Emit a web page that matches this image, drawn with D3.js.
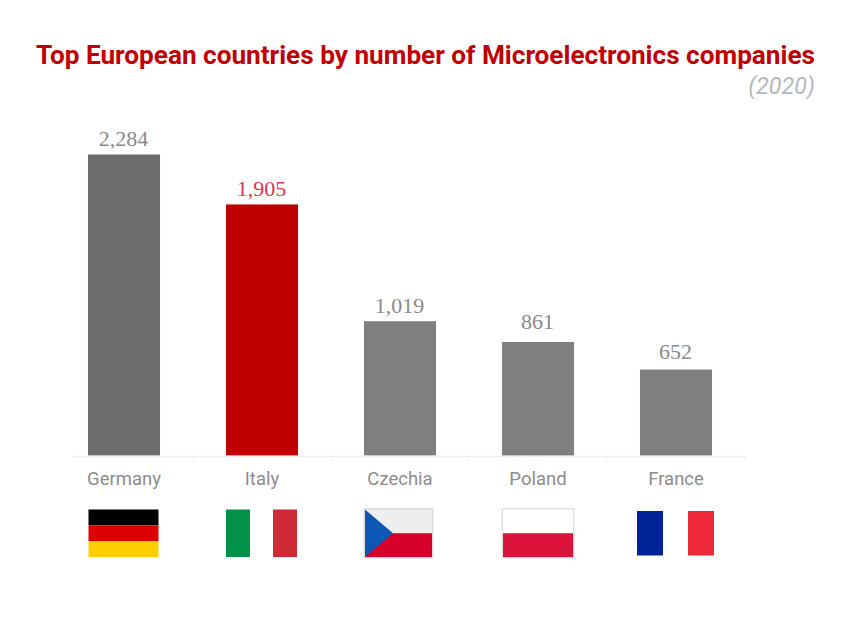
<!DOCTYPE html>
<html>
<head>
<meta charset="utf-8">
<script src="https://cdn.jsdelivr.net/npm/d3@7"></script>
<style>
  html, body { margin: 0; padding: 0; background: #fff; }
  svg { display: block; }
  .domain, .tick line { stroke: #f0f0f0; }
  .tick text { font-family: Roboto, sans-serif; font-size: 18.5px; fill: #8c8c8c; }
</style>
</head>
<body>
<svg id="chart"></svg>
<script>
let countries = ['Germany', 'Italy', 'Czechia', 'Poland', 'France'];
let companies = [2284, 1905, 1019, 861, 652];
let barColors = ['#6d6d6d', '#c00000', '#7f7f7f', '#7f7f7f', '#7f7f7f'];
let valueColors = ['#8a8a8a', '#e0344f', '#8a8a8a', '#8a8a8a', '#8a8a8a'];
// the value labels don't sit at a constant distance over the bars
let valueGaps = [9, 8, 8, 13, 11];

let w = 851;
let h = 618;
let baseline = 455.5;
let plotTop = 154.5;

let svg = d3.select('#chart')
    .attr('width', w)
    .attr('height', h)
    .attr('viewBox', `0 0 ${w} ${h}`);

let x = d3.scaleBand()
    .domain(countries)
    .range([55, 745])
    .paddingInner(0.478)
    .paddingOuter(0.239);

let y = d3.scaleLinear()
    .domain([0, d3.max(companies)])
    .range([baseline, plotTop]);

// title
svg.append('text')
    .attr('x', 815)
    .attr('y', 64)
    .attr('text-anchor', 'end')
    .attr('font-family', 'Roboto, sans-serif')
    .attr('font-weight', 700)
    .attr('font-size', 26.17)
    .attr('fill', '#c00000')
    .text('Top European countries by number of Microelectronics companies');

svg.append('text')
    .attr('x', 815)
    .attr('y', 94)
    .attr('text-anchor', 'end')
    .attr('font-family', 'Roboto, sans-serif')
    .attr('font-style', 'italic')
    .attr('font-size', 23.4)
    .attr('fill', '#b4b8bc')
    .text('(2020)');

// bars
svg.append('g')
    .selectAll('rect')
    .data(countries)
    .enter()
    .append('rect')
    .attr('x', d => x(d))
    .attr('y', (d, i) => y(companies[i]))
    .attr('width', x.bandwidth())
    .attr('height', (d, i) => y(0) - y(companies[i]))
    .attr('fill', (d, i) => barColors[i]);

// values
svg.append('g')
    .selectAll('text')
    .data(countries)
    .enter()
    .append('text')
    .attr('x', d => x(d) + x.bandwidth() / 2 - 0.5)
    .attr('y', (d, i) => y(companies[i]) - valueGaps[i])
    .attr('text-anchor', 'middle')
    .attr('font-family', '"Liberation Serif", serif')
    .attr('font-size', 22)
    .attr('fill', (d, i) => valueColors[i])
    .text((d, i) => d3.format(',')(companies[i]));

// axis: labels from the band scale, ticks sit on the band edges
let xAxis = d3.axisBottom(x)
    .tickSizeInner(0)
    .tickSizeOuter(0)
    .tickPadding(16);

let $xAxis = svg.append('g')
    .attr('transform', `translate(0, ${baseline + 0.5})`)
    .call(xAxis);

$xAxis.select('.domain')
    .attr('d', 'M73,0.5H745')
    .attr('stroke-width', 1.5);

$xAxis.selectAll('.tick line')
    .attr('x1', x.step() / 2)
    .attr('x2', x.step() / 2)
    .attr('y2', 5);

// flags, each one drawn inside the band of its country
let flagTop = 509.5;
let flagH = 47.5;
let flagW = 70;

let flags = svg.append('g');

function flag(name, dx = 0) {
    return flags.append('g')
        .attr('transform', `translate(${x(name) + x.bandwidth() / 2 - flagW / 2 + dx}, ${flagTop})`);
}

function stripe(g, sx, sy, sw, sh, color) {
    g.append('rect')
        .attr('x', sx)
        .attr('y', sy)
        .attr('width', sw)
        .attr('height', sh)
        .attr('fill', color);
}

let de = flag('Germany', -0.5);
stripe(de, 0, 0, flagW, flagH / 3, '#000000');
stripe(de, 0, flagH / 3, flagW, flagH / 3, '#dd0000');
stripe(de, 0, 2 * flagH / 3, flagW, flagH / 3, '#ffce00');

let it = flag('Italy', -1);
stripe(it, 0, 0, 24, flagH, '#009246');
stripe(it, 47, 0, 24, flagH, '#ce2b37');

let cz = flag('Czechia');
stripe(cz, -1.5, -1.5, 70, 50.5, '#dcdcdc');
stripe(cz, 0, 0, 67, flagH / 2, '#eeeeee');
stripe(cz, 0, flagH / 2, 67, flagH / 2, '#d7002a');
cz.append('path')
    .attr('d', `M0,0L28,${flagH / 2}L0,${flagH}Z`)
    .attr('fill', '#0c56b4');

let pl = flag('Poland');
stripe(pl, -1.5, -1.5, 73, 50.5, '#e0e0e0');
stripe(pl, 0, 0, flagW, flagH / 2, '#ffffff');
stripe(pl, 0, flagH / 2, flagW, flagH / 2, '#dc143c');

let fr = flag('France');
stripe(fr, -4, 1.5, 26, 44.5, '#002395');
stripe(fr, 47, 1.5, 26, 44.5, '#ed2939');
</script>
</body>
</html>
